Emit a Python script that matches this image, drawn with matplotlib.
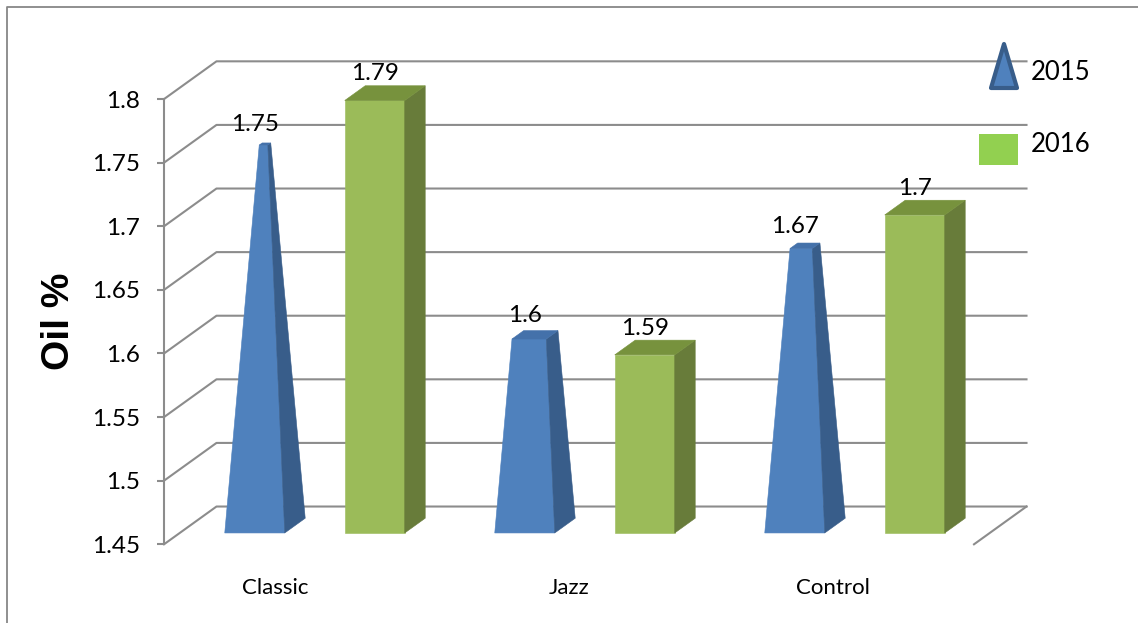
import matplotlib.pyplot as plt
from matplotlib.patches import Polygon, Rectangle

# oil content per music treatment
categories = ["Classic", "Jazz", "Control"]
series_names = ["2015", "2016"]
oil_2015 = [1.75, 1.60, 1.67]
oil_2016 = [1.79, 1.59, 1.70]
y_ticks = [1.45, 1.5, 1.55, 1.6, 1.65, 1.7, 1.75, 1.8]
y_min, y_max = 1.45, 1.8

plt.rcParams['font.family'] = ['Lato', 'DejaVu Sans']

W, H = 1138, 623
fig = plt.figure(figsize=(W / 100, H / 100), dpi=100)
ax = fig.add_axes([164 / W, 1 - 544.3 / H, 810 / W, (544.3 - 99.1) / H])
ax.set_xlim(0, len(categories))
ax.set_ylim(y_min, y_max)

# oblique "3d" projection: depth 0..1 shifts right and up
DX = 0.1944
DY = 0.0297
D0, D1 = 0.30, 0.69
BW = 0.2222
grid_col = '#8c8c8c'

def proj(x, v, d):
    return (x + d * DX, v + d * DY)

# walls: gridlines run from the front axis back, then across
for v in y_ticks:
    ax.plot([0, DX, len(categories) + DX], [v, v + DY, v + DY],
            color=grid_col, lw=1.5, clip_on=False, zorder=1)
ax.plot([len(categories), len(categories) + DX], [y_min, y_min + DY],
        color=grid_col, lw=1.5, clip_on=False, zorder=1)

def face(pts, col, z):
    ax.add_patch(Polygon(pts, closed=True, facecolor=col, edgecolor=col,
                         lw=0.4, clip_on=False, zorder=z))

def pyramid(c, v, z):
    x0, x1 = c - BW / 2, c + BW / 2
    dm = (D0 + D1) / 2
    k = (y_max - v) / (y_max - y_min)
    hw, hd = BW / 2 * k, (D1 - D0) / 2 * k
    face([proj(x0, y_min, D0), proj(x1, y_min, D0),
          proj(c + hw, v, dm - hd), proj(c - hw, v, dm - hd)], '#4f81bd', z)
    face([proj(x1, y_min, D0), proj(x1, y_min, D1),
          proj(c + hw, v, dm + hd), proj(c + hw, v, dm - hd)], '#385d8a', z)
    face([proj(c - hw, v, dm - hd), proj(c + hw, v, dm - hd),
          proj(c + hw, v, dm + hd), proj(c - hw, v, dm + hd)], '#4471aa', z)

def box(c, v, z):
    x0, x1 = c - BW / 2, c + BW / 2
    face([proj(x0, y_min, D0), proj(x1, y_min, D0),
          proj(x1, v, D0), proj(x0, v, D0)], '#9bbb59', z)
    face([proj(x1, y_min, D0), proj(x1, y_min, D1),
          proj(x1, v, D1), proj(x1, v, D0)], '#687c3a', z)
    face([proj(x0, v, D0), proj(x1, v, D0),
          proj(x1, v, D1), proj(x0, v, D1)], '#77923d', z)

def value_label(c, v):
    ax.annotate(f"{v:g}", xy=(c + D0 * DX, v + D1 * DY),
                xytext=(0, 4), textcoords='offset points',
                ha='center', va='baseline', fontsize=17.5, color='black',
                zorder=10, annotation_clip=False)

for i in range(len(categories)):
    c_blue = i + 0.5 - BW
    c_green = i + 0.5 + BW
    pyramid(c_blue, oil_2015[i], 3 + i)
    box(c_green, oil_2016[i], 3 + i)
    value_label(c_blue, oil_2015[i])
    value_label(c_green, oil_2016[i])

# axes styling
for s in ['top', 'right', 'bottom']:
    ax.spines[s].set_visible(False)
ax.spines['left'].set_color(grid_col)
ax.spines['left'].set_linewidth(1.5)
ax.patch.set_visible(False)
ax.set_yticks(y_ticks, [f"{t:g}" for t in y_ticks])
ax.tick_params(axis='y', length=5, width=1.5, color=grid_col, pad=12,
               labelsize=17.5, labelcolor='black')
label_nudge = [-0.087, 0.0, -0.022]
ax.set_xticks([i + 0.5 + n for i, n in enumerate(label_nudge)], categories)
ax.tick_params(axis='x', length=0, pad=24, labelsize=16, labelcolor='black')
ax.set_ylabel("Oil %", fontsize=28, fontweight='bold',
              family=['Liberation Sans', 'DejaVu Sans'], labelpad=11)

# frame and legend in pixel space
ov = fig.add_axes([0, 0, 1, 1], zorder=5)
ov.set_xlim(0, W)
ov.set_ylim(H, 0)
ov.axis('off')
ov.plot([7, 7, W + 5], [H + 5, 7, 7], color='#878787', lw=1.3)
ov.add_patch(Polygon([(991, 88), (1017, 88), (1004, 44)], closed=True,
                     facecolor='#4f81bd', edgecolor='#385d8a', lw=3,
                     joinstyle='round'))
ov.add_patch(Rectangle((979, 134), 39, 31, facecolor='#92d050', edgecolor='none'))
ov.text(1031, 72, series_names[0], fontsize=18.5, va='center', ha='left')
ov.text(1031, 144, series_names[1], fontsize=18.5, va='center', ha='left')

fig.savefig('out.png', dpi=100)
